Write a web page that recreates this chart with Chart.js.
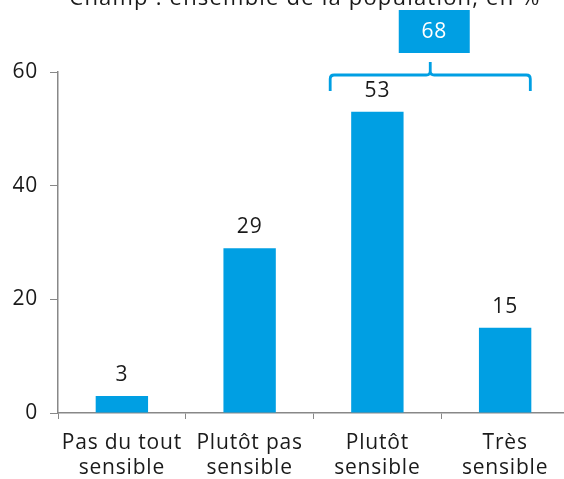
<!DOCTYPE html>
<html>
<head>
<meta charset="utf-8">
<script src="https://cdn.jsdelivr.net/npm/chart.js@4/dist/chart.umd.min.js"></script>
<style>
  html, body { margin: 0; padding: 0; background: #fff; overflow: hidden; }
  #wrap { position: relative; width: 564px; height: 479px; overflow: hidden; }
  #c { position: absolute; left: 0; top: 0; }
</style>
</head>
<body>
<div id="wrap"><canvas id="c" width="569" height="479"></canvas></div>
<script>
// données
const categories = [['Pas du tout', 'sensible'], ['Plutôt pas', 'sensible'], ['Plutôt', 'sensible'], ['Très', 'sensible']];
const values = [3, 29, 53, 15];
const yTicks = [0, 20, 40, 60];
const groupIdx = [2, 3];          // barres regroupées par l'accolade
const groupLabel = '68';
const title = 'Champ : ensemble de la population, en %';

const BLUE = '#009fe3';
const AXIS = '#888888';
const INK = '#1a1a1a';
const FONT = "'Open Sans', sans-serif";
const SPACING = '0.8px';

// espacement des lettres, comme la police d'origine
const spacingPlugin = {
  id: 'espacement',
  beforeDraw(chart) { chart.ctx.letterSpacing = SPACING; }
};

// titre (coupé en haut comme sur l'original)
const titlePlugin = {
  id: 'titre',
  afterDraw(chart) {
    const ctx = chart.ctx;
    ctx.save();
    ctx.letterSpacing = '1.2px';
    ctx.fillStyle = INK;
    ctx.font = '22px ' + FONT;
    ctx.textAlign = 'center';
    ctx.textBaseline = 'alphabetic';
    ctx.fillText(title, 305, 5);
    ctx.restore();
  }
};

// valeurs au-dessus des barres
const labelsPlugin = {
  id: 'valeurs',
  afterDatasetsDraw(chart) {
    const ctx = chart.ctx;
    const meta = chart.getDatasetMeta(0);
    ctx.save();
    ctx.letterSpacing = SPACING;
    ctx.fillStyle = INK;
    ctx.font = '21px ' + FONT;
    ctx.textAlign = 'center';
    ctx.textBaseline = 'middle';
    meta.data.forEach((bar, i) => {
      ctx.fillText(String(values[i]), bar.x, bar.y - 21);
    });
    ctx.restore();
  }
};

// accolade + encadré "68"
const bracketPlugin = {
  id: 'accolade',
  afterDraw(chart) {
    const ctx = chart.ctx;
    const meta = chart.getDatasetMeta(0);
    const a = meta.data[groupIdx[0]], b = meta.data[groupIdx[1]];
    const top = chart.chartArea.top;
    const x0 = a.x - a.width / 2 - 21;
    const x1 = b.x + b.width / 2 - 1;
    const xm = (x0 + x1) / 2;
    const y = top + 3;
    ctx.save();
    ctx.strokeStyle = BLUE;
    ctx.lineWidth = 2.8;
    ctx.lineJoin = 'round';
    ctx.beginPath();
    ctx.moveTo(x0, y + 16);
    ctx.lineTo(x0, y + 4);
    ctx.quadraticCurveTo(x0, y, x0 + 4, y);
    ctx.lineTo(xm - 4, y);
    ctx.quadraticCurveTo(xm, y, xm, y - 4);
    ctx.lineTo(xm, y - 13);
    ctx.moveTo(xm, y - 4);
    ctx.quadraticCurveTo(xm, y, xm + 4, y);
    ctx.lineTo(x1 - 4, y);
    ctx.quadraticCurveTo(x1, y, x1, y + 4);
    ctx.lineTo(x1, y + 16);
    ctx.stroke();

    const bw = 71, bh = 43;
    const bx = xm + 4 - bw / 2, by = top - 62;
    ctx.fillStyle = BLUE;
    ctx.fillRect(bx, by, bw, bh);
    ctx.letterSpacing = SPACING;
    ctx.fillStyle = '#ffffff';
    ctx.font = '21px ' + FONT;
    ctx.textAlign = 'center';
    ctx.textBaseline = 'middle';
    ctx.fillText(groupLabel, bx + bw / 2, by + bh / 2 + 1);
    ctx.restore();
  }
};

new Chart(document.getElementById('c'), {
  type: 'bar',
  data: {
    labels: categories,
    datasets: [{
      data: values,
      backgroundColor: BLUE,
      borderWidth: 0,
      categoryPercentage: 1,
      barPercentage: 0.41
    }]
  },
  options: {
    responsive: false,
    animation: false,
    devicePixelRatio: 1,
    layout: { padding: { top: 72, right: 0, bottom: 0, left: 0 } },
    plugins: { legend: { display: false }, tooltip: { enabled: false }, title: { display: false } },
    scales: {
      x: {
        afterFit(scale) { scale.height = 66; },
        grid: { display: true, drawOnChartArea: false, drawTicks: true, tickLength: 6, color: AXIS, offset: true },
        border: { color: AXIS, width: 1.5 },
        ticks: { color: INK, font: { family: FONT, size: 21, lineHeight: 1.19 }, padding: 12, maxRotation: 0, autoSkip: false }
      },
      y: {
        min: 0, max: 60,
        afterBuildTicks(scale) { scale.ticks = yTicks.map(v => ({ value: v })); },
        afterFit(scale) { scale.width = 58; },
        grid: { display: true, drawOnChartArea: false, drawTicks: true, tickLength: 8, color: AXIS },
        border: { color: AXIS, width: 1.5 },
        ticks: { color: INK, font: { family: FONT, size: 21 }, padding: 12 }
      }
    }
  },
  plugins: [spacingPlugin, titlePlugin, labelsPlugin, bracketPlugin]
});
</script>
</body>
</html>
